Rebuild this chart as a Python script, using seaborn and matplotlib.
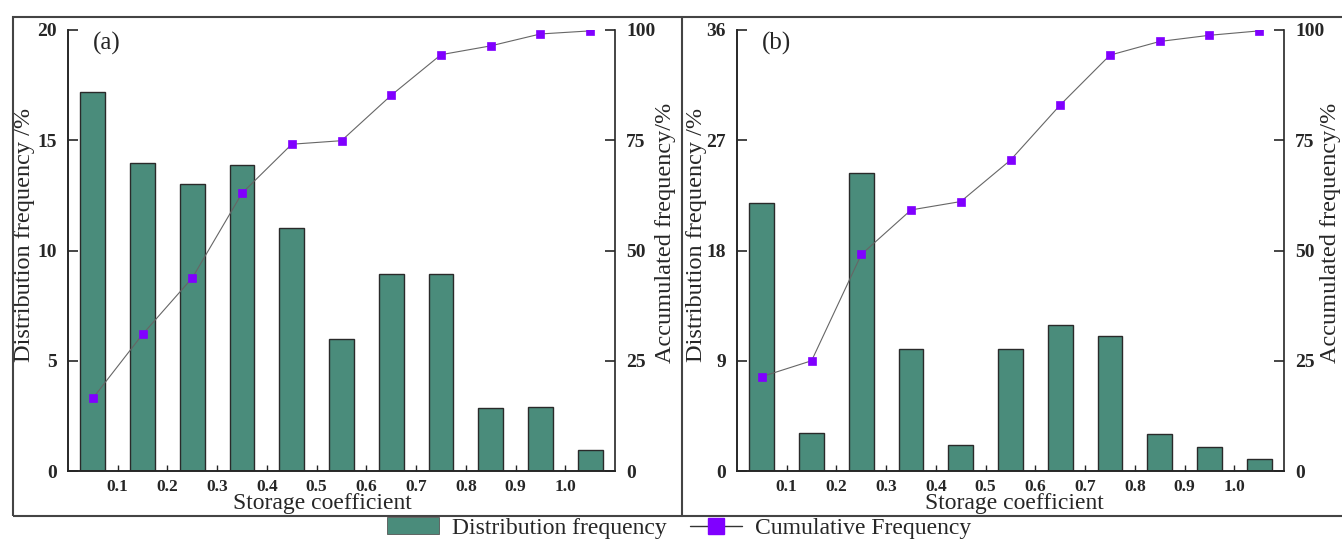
import numpy as np
import pandas as pd
import matplotlib
matplotlib.use("Agg")
import matplotlib.pyplot as plt
import seaborn as sns
from matplotlib.patches import Patch, Rectangle
from matplotlib.lines import Line2D

# data
x_mid = [0.05, 0.15, 0.25, 0.35, 0.45, 0.55, 0.65, 0.75, 0.85, 0.95, 1.05]
x_ticks = [0.1, 0.2, 0.3, 0.4, 0.5, 0.6, 0.7, 0.8, 0.9, 1.0]
dist_a = [17.2, 13.95, 13.0, 13.9, 11.0, 6.0, 8.95, 8.95, 2.87, 2.9, 0.95]
cum_a = [16.5, 31.0, 43.8, 63.0, 74.1, 74.9, 85.2, 94.4, 96.4, 99.1, 99.8]
dist_b = [21.9, 3.1, 24.3, 10.0, 2.1, 10.0, 11.9, 11.0, 3.05, 1.95, 0.98]
cum_b = [21.4, 25.0, 49.1, 59.2, 61.1, 70.5, 83.0, 94.3, 97.4, 98.8, 99.8]
yticks_a = [0, 5, 10, 15, 20]
yticks_b = [0, 9, 18, 27, 36]
cum_ticks = [0, 25, 50, 75, 100]

bar_col = "#4a8c7b"
pt_col = "#8000ff"
line_col = "#666666"

sns.set_style("ticks")
plt.rcParams["font.family"] = ["Liberation Serif", "DejaVu Serif"]
plt.rcParams["axes.linewidth"] = 1.2

fig = plt.figure(figsize=(13.42, 5.39), dpi=100)
W, H = 1342, 539


def panel(left, dist, cum, yt, tag, xlab_x, yl_l, yl_r):
    ax = fig.add_axes([left / W, (H - 471) / H, 547 / W, 441 / H])
    df = pd.DataFrame({"x": x_mid, "d": dist, "c": cum})
    sns.barplot(data=df, x="x", y="d", native_scale=True, orient="x", width=0.5,
                color=bar_col, saturation=1, edgecolor="#2a2a2a", linewidth=1.0,
                errorbar=None, ax=ax)
    ax.set_xlim(0, 1.1)
    ax.set_ylim(yt[0], yt[-1])
    ax.set_xticks(x_ticks, labels=[f"{v:.1f}" for v in x_ticks], fontweight="bold", fontsize=12.5)
    ax.set_yticks(yt, labels=[str(v) for v in yt], fontweight="bold", fontsize=14)
    ax.tick_params(axis="x", direction="in", length=4, width=1.0, pad=6)
    ax.tick_params(axis="y", direction="in", length=7, width=1.2, pad=8)
    ax.spines["top"].set_visible(False)
    ax.spines["right"].set_visible(False)
    ax.set_xlabel("Storage coefficient", fontsize=17)
    ax.xaxis.set_label_coords(xlab_x, -0.05)
    ax.set_ylabel("Distribution frequency /%", fontsize=17.5)
    ax.yaxis.set_label_coords(yl_l, 0.535)
    ax.text(0.045, 0.97, tag, transform=ax.transAxes, fontsize=18, va="center", ha="left")

    ax2 = ax.twinx()
    sns.lineplot(data=df, x="x", y="c", ax=ax2, color=line_col, linewidth=0.8,
                 marker="s", markersize=6, markerfacecolor=pt_col,
                 markeredgecolor=pt_col, markeredgewidth=0.5)
    ax2.set_ylim(0, 100)
    ax2.set_yticks(cum_ticks, labels=[str(v) for v in cum_ticks], fontweight="bold", fontsize=14)
    ax2.tick_params(axis="y", direction="in", length=7, width=1.2, pad=8)
    ax2.spines["top"].set_visible(False)
    ax2.set_ylabel("Accumulated frequency/%", fontsize=17.5)
    ax2.yaxis.set_label_coords(yl_r, 0.54)
    ax2.set_xlim(0, 1.1)
    return ax, ax2


panel(68, dist_a, cum_a, yticks_a, "(a)", 0.465, -0.06, 1.073)
panel(737, dist_b, cum_b, yticks_b, "(b)", 0.507, -0.055, 1.066)

# outer frame and divider
fig.add_artist(Rectangle((12.7 / W, 1 - 516 / H), 1.0, (516 - 16.7) / H,
                         transform=fig.transFigure, fill=False, edgecolor="#444444", lw=1.5))
fig.add_artist(Line2D([681.7 / W, 681.7 / W], [1 - 516 / H, 1 - 16.7 / H],
                      transform=fig.transFigure, color="#444444", lw=1.5))

handles = [Patch(facecolor=bar_col, edgecolor="#555555", linewidth=0.6),
           Line2D([0], [0], color="#333333", lw=1.0, marker="s", markersize=11,
                  markerfacecolor=pt_col, markeredgecolor=pt_col)]
fig.legend(handles, ["Distribution frequency", "Cumulative Frequency"],
           loc="center", bbox_to_anchor=(0.506, 1 - 528 / H), ncol=2, frameon=False,
           fontsize=17, handlelength=2.2, columnspacing=1.0, handletextpad=0.55,
           borderaxespad=0, borderpad=0)

fig.savefig("out.png", dpi=100)
